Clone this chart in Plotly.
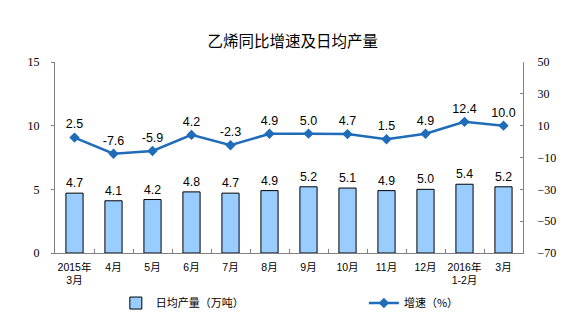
import plotly.graph_objects as go

categories = ["2015年<br>3月", "4月", "5月", "6月", "7月", "8月", "9月", "10月", "11月", "12月", "2016年<br>1-2月", "3月"]
output = [4.7, 4.1, 4.2, 4.8, 4.7, 4.9, 5.2, 5.1, 4.9, 5.0, 5.4, 5.2]
growth = [2.5, -7.6, -5.9, 4.2, -2.3, 4.9, 5.0, 4.7, 1.5, 4.9, 12.4, 10.0]
left_ticks = [0, 5, 10, 15]
right_ticks = [-70, -50, -30, -10, 10, 30, 50]

fig = go.Figure()
fig.add_trace(go.Bar(
    x=categories, y=output, name="日均产量（万吨）",
    marker=dict(color="#99CCFF", line=dict(color="#000000", width=1)),
    width=0.44,
    text=[f"{v:.1f}" for v in output], textposition="outside",
    textfont=dict(family="Liberation Sans, Arial", size=12.5, color="#000"),
    cliponaxis=False, legend="legend",
))
fig.add_trace(go.Scatter(
    x=categories, y=growth, name="增速（%）", yaxis="y2",
    mode="lines+markers+text",
    line=dict(color="#1F6CB8", width=2.5),
    marker=dict(symbol="diamond", size=8, color="#1F6CB8"),
    text=[f"{v:.1f}" for v in growth], textposition="top center",
    textfont=dict(family="Liberation Sans, Arial", size=12.5, color="#000"),
    cliponaxis=False, legend="legend2",
))

legend_font = dict(family="Noto Sans CJK SC", size=11, color="#000")
tick_font = dict(family="Liberation Serif, Times New Roman", size=12, color="#000")

fig.update_layout(
    width=588, height=336,
    margin=dict(l=55, r=65, t=62, b=83),
    paper_bgcolor="white", plot_bgcolor="white",
    title=dict(text="乙烯同比增速及日均产量", x=0.498, xanchor="center", y=0.875, yanchor="middle",
               font=dict(family="Noto Sans CJK SC", size=15.5, color="#000")),
    xaxis=dict(type="category", range=[-0.5, 11.5], showline=True, linecolor="#808080", linewidth=1,
               ticks="inside", tickson="boundaries", ticklen=4, tickcolor="#808080",
               tickangle=0, automargin=False, ticklabelstandoff=4,
               tickfont=dict(family="Liberation Sans, Noto Sans CJK SC", size=10.5, color="#000"),
               showgrid=False, zeroline=False),
    yaxis=dict(range=[0, 15], tickvals=left_ticks, showline=True, linecolor="#808080", linewidth=1,
               ticks="outside", ticklen=3, tickcolor="#808080", showgrid=False, zeroline=False,
               automargin=False, ticklabelstandoff=9, tickfont=tick_font),
    yaxis2=dict(range=[-70, 50], tickvals=right_ticks, overlaying="y", side="right",
                showline=True, linecolor="#808080", linewidth=1, automargin=False,
                ticks="inside", ticklen=3, tickcolor="#808080", showgrid=False, zeroline=False,
                ticklabelstandoff=11, tickfont=tick_font),
    legend=dict(orientation="h", x=0.13, xanchor="left", y=-0.262, yanchor="middle",
                font=legend_font, bgcolor="rgba(0,0,0,0)"),
    legend2=dict(orientation="h", x=0.66, xanchor="left", y=-0.262, yanchor="middle",
                 font=legend_font, bgcolor="rgba(0,0,0,0)"),
    showlegend=True,
)

fig.write_html("out.html")
